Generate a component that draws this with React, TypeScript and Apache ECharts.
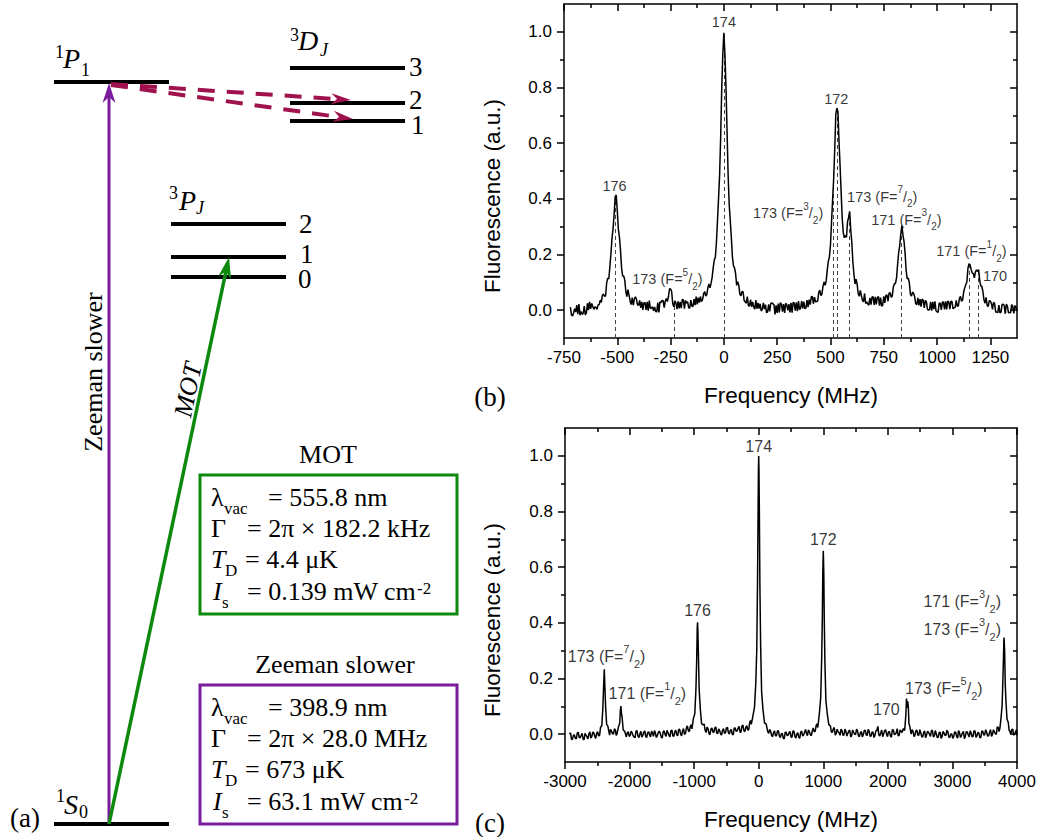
import React, { useEffect, useRef } from "react";
import * as echarts from "echarts";

const SERIF = '"Liberation Serif", "Times New Roman", Times, serif';
const SANS = '"Liberation Sans", Arial, Helvetica, sans-serif';

// ---------- panel (b): fluorescence spectrum, fine scan (MHz, a.u.) ----------
const traceB: [number, number][] = [
  [-720,0.011],[-715,-0.017],[-710,-0.021],[-705,-0.010],[-700,0.005],[-695,-0.007],[-690,0.018],[-685,-0.014],[-680,0.022],[-675,-0.018],
  [-670,-0.005],[-665,-0.015],[-660,-0.012],[-655,0.015],[-650,-0.017],[-645,-0.010],[-640,0.025],[-635,0.000],[-630,0.030],[-625,0.005],
  [-620,0.024],[-615,0.013],[-610,0.003],[-605,0.012],[-600,0.010],[-595,0.003],[-590,0.019],[-585,0.020],[-580,0.036],[-575,0.028],
  [-570,0.053],[-565,0.058],[-560,0.050],[-555,0.051],[-550,0.097],[-545,0.115],[-540,0.112],[-535,0.154],[-530,0.201],[-525,0.257],
  [-520,0.292],[-515,0.342],[-510,0.407],[-505,0.414],[-500,0.357],[-495,0.290],[-490,0.263],[-485,0.216],[-480,0.152],[-475,0.123],
  [-470,0.123],[-465,0.109],[-460,0.068],[-455,0.049],[-450,0.074],[-445,0.054],[-440,0.034],[-435,0.020],[-430,0.045],[-425,0.018],
  [-420,0.040],[-415,0.048],[-410,0.039],[-405,0.019],[-400,0.017],[-395,0.035],[-390,0.008],[-385,0.030],[-380,0.001],[-375,0.027],
  [-370,0.027],[-365,0.001],[-360,0.030],[-355,-0.002],[-350,0.034],[-345,0.007],[-340,0.007],[-335,0.012],[-330,-0.002],[-325,0.012],
  [-320,-0.005],[-315,-0.006],[-310,0.027],[-305,-0.008],[-300,0.030],[-295,0.027],[-290,0.035],[-285,0.034],[-280,0.009],[-275,0.032],
  [-270,0.042],[-265,0.031],[-260,0.049],[-255,0.077],[-250,0.076],[-245,0.067],[-240,0.024],[-235,0.012],[-230,0.033],[-225,0.026],
  [-220,0.004],[-215,0.032],[-210,0.006],[-205,0.030],[-200,0.007],[-195,0.039],[-190,0.037],[-185,0.005],[-180,0.035],[-175,0.026],
  [-170,0.030],[-165,0.008],[-160,0.008],[-155,0.036],[-150,0.015],[-145,0.013],[-140,0.040],[-135,0.018],[-130,0.049],[-125,0.021],
  [-120,0.045],[-115,0.027],[-110,0.049],[-105,0.031],[-100,0.038],[-95,0.059],[-90,0.067],[-85,0.051],[-80,0.056],[-75,0.081],
  [-70,0.094],[-65,0.080],[-60,0.097],[-55,0.118],[-50,0.153],[-45,0.180],[-40,0.191],[-35,0.243],[-30,0.322],[-25,0.400],
  [-20,0.487],[-15,0.624],[-10,0.799],[-5,0.921],[0,0.997],[5,0.917],[10,0.797],[15,0.638],[20,0.483],[25,0.379],
  [30,0.321],[35,0.261],[40,0.191],[45,0.159],[50,0.152],[55,0.131],[60,0.089],[65,0.102],[70,0.089],[75,0.057],
  [80,0.052],[85,0.067],[90,0.066],[95,0.035],[100,0.030],[105,0.025],[110,0.049],[115,0.016],[120,0.015],[125,0.038],
  [130,0.012],[135,0.030],[140,0.010],[145,0.004],[150,0.036],[155,0.005],[160,0.026],[165,0.006],[170,0.023],[175,-0.003],
  [180,0.003],[185,0.026],[190,0.004],[195,0.020],[200,-0.009],[205,-0.006],[210,0.021],[215,-0.004],[220,0.024],[225,0.026],
  [230,0.023],[235,0.019],[240,-0.015],[245,0.017],[250,-0.010],[255,0.024],[260,-0.008],[265,0.027],[270,0.021],[275,-0.005],
  [280,0.022],[285,-0.010],[290,0.025],[295,0.019],[300,-0.001],[305,0.022],[310,-0.008],[315,0.026],[320,-0.009],[325,0.028],
  [330,0.025],[335,-0.002],[340,0.028],[345,-0.004],[350,0.033],[355,0.002],[360,0.007],[365,0.033],[370,0.006],[375,0.031],
  [380,0.005],[385,0.008],[390,0.036],[395,0.011],[400,0.038],[405,0.020],[410,0.048],[415,0.049],[420,0.023],[425,0.047],
  [430,0.030],[435,0.031],[440,0.033],[445,0.064],[450,0.072],[455,0.052],[460,0.058],[465,0.086],[470,0.101],[475,0.089],
  [480,0.106],[485,0.145],[490,0.176],[495,0.191],[500,0.234],[505,0.316],[510,0.396],[515,0.472],[520,0.578],[525,0.703],
  [530,0.726],[535,0.714],[540,0.608],[545,0.520],[550,0.424],[555,0.331],[560,0.279],[565,0.260],[570,0.268],[575,0.262],
  [580,0.317],[585,0.333],[590,0.355],[595,0.289],[600,0.245],[605,0.174],[610,0.130],[615,0.094],[620,0.111],[625,0.094],
  [630,0.060],[635,0.050],[640,0.071],[645,0.052],[650,0.035],[655,0.030],[660,0.060],[665,0.024],[670,0.030],[675,0.022],
  [680,0.018],[685,0.044],[690,0.020],[695,0.047],[700,0.048],[705,0.019],[710,0.048],[715,0.021],[720,0.045],[725,0.049],
  [730,0.016],[735,0.045],[740,0.014],[745,0.018],[750,0.050],[755,0.026],[760,0.053],[765,0.055],[770,0.032],[775,0.061],
  [780,0.063],[785,0.046],[790,0.051],[795,0.084],[800,0.095],[805,0.096],[810,0.116],[815,0.165],[820,0.207],[825,0.233],
  [830,0.274],[835,0.304],[840,0.270],[845,0.247],[850,0.205],[855,0.143],[860,0.112],[865,0.115],[870,0.098],[875,0.057],
  [880,0.051],[885,0.065],[890,0.060],[895,0.048],[900,0.023],[905,0.020],[910,0.044],[915,0.017],[920,0.040],[925,0.013],
  [930,0.040],[935,0.036],[940,0.008],[945,0.035],[950,0.030],[955,0.003],[960,0.000],[965,0.002],[970,0.030],[975,-0.002],
  [980,0.030],[985,0.004],[990,0.032],[995,-0.002],[1000,-0.006],[1005,-0.008],[1010,0.026],[1015,0.024],[1020,0.001],[1025,0.029],
  [1030,0.029],[1035,0.003],[1040,0.032],[1045,0.003],[1050,0.033],[1055,0.030],[1060,0.004],[1065,0.032],[1070,0.031],[1075,0.005],
  [1080,0.009],[1085,0.010],[1090,0.035],[1095,0.014],[1100,0.016],[1105,0.043],[1110,0.049],[1115,0.032],[1120,0.037],[1125,0.066],
  [1130,0.081],[1135,0.092],[1140,0.102],[1145,0.151],[1150,0.167],[1155,0.163],[1160,0.146],[1165,0.133],[1170,0.132],[1175,0.116],
  [1180,0.138],[1185,0.145],[1190,0.139],[1195,0.146],[1200,0.108],[1205,0.087],[1210,0.086],[1215,0.067],[1220,0.037],[1225,0.025],
  [1230,0.046],[1235,0.017],[1240,0.013],[1245,0.034],[1250,0.033],[1255,0.024],[1260,0.003],[1265,0.028],[1270,0.024],[1275,-0.007],
  [1280,-0.007],[1285,-0.009],[1290,0.018],[1295,-0.010],[1300,-0.007],[1305,0.020],[1310,0.021],[1315,0.017],[1320,-0.013],[1325,0.022],
  [1330,0.015],[1335,-0.010],[1340,-0.008],[1345,-0.010],[1350,0.020],[1355,0.014],[1360,-0.012],[1365,0.016],[1370,0.012],[1375,-0.003],
];

// dashed markers: [frequency, top of the dashed line]
const markersB: [number, number][] = [
  [-508, 0.40], [-234, 0.03], [0, 0.99], [514, 0.5], [532, 0.72], [588, 0.35], [834, 0.30], [1153, 0.16], [1193, 0.14],
];

const labelsB = [
  { text: "176", x: -513, y: 0.445 },
  { text: "174", x: 0, y: 1.035 },
  { text: "172", x: 527, y: 0.757 },
  { text: "173 (F={sup|5}/{sub|2})", x: -265, y: 0.111 },
  { text: "173 (F={sup|3}/{sub|2})", x: 301, y: 0.349 },
  { text: "173 (F={sup|7}/{sub|2})", x: 743, y: 0.408 },
  { text: "171 (F={sup|3}/{sub|2})", x: 856, y: 0.325 },
  { text: "171 (F={sup|1}/{sub|2})", x: 1161, y: 0.211 },
  { text: "170", x: 1272, y: 0.122 },
];

// ---------- panel (c): fluorescence spectrum, wide scan (MHz, a.u.) ----------
const traceC: [number, number][] = [
  [-2930,0.000],[-2915,0.005],[-2900,-0.018],[-2885,-0.019],[-2870,-0.004],[-2855,-0.003],[-2840,-0.015],[-2825,-0.017],[-2810,0.004],[-2795,0.007],
  [-2780,-0.012],[-2765,-0.013],[-2750,-0.005],[-2735,0.003],[-2720,-0.018],[-2705,-0.020],[-2690,0.003],[-2675,-0.003],[-2660,-0.009],[-2645,-0.017],
  [-2630,0.001],[-2615,0.008],[-2600,-0.014],[-2585,-0.009],[-2570,0.007],[-2555,0.005],[-2540,-0.007],[-2525,-0.015],[-2510,0.002],[-2495,0.009],
  [-2480,-0.006],[-2465,-0.005],[-2450,0.024],[-2430,0.031],[-2415,0.089],[-2402,0.171],[-2392,0.233],[-2382,0.169],[-2370,0.092],[-2355,0.035],
  [-2335,0.028],[-2310,-0.003],[-2295,0.017],[-2280,0.011],[-2265,0.002],[-2250,0.000],[-2235,0.019],[-2220,0.016],[-2207,-0.004],[-2195,0.001],
  [-2170,0.028],[-2152,0.040],[-2142,0.087],[-2134,0.101],[-2126,0.076],[-2116,0.061],[-2098,0.015],[-2075,0.010],[-2050,-0.010],[-2035,0.005],
  [-2020,0.009],[-2005,-0.008],[-1990,-0.004],[-1975,0.011],[-1960,0.005],[-1945,-0.006],[-1930,-0.010],[-1915,-0.013],[-1900,0.011],[-1885,0.013],
  [-1870,-0.007],[-1855,-0.012],[-1840,0.001],[-1825,0.010],[-1810,-0.011],[-1795,-0.004],[-1780,0.007],[-1765,0.012],[-1750,-0.008],[-1735,-0.012],
  [-1720,0.005],[-1705,0.009],[-1690,-0.002],[-1675,-0.010],[-1660,0.011],[-1645,0.004],[-1630,-0.008],[-1615,0.013],[-1600,0.004],[-1585,-0.012],
  [-1570,-0.005],[-1555,0.006],[-1540,0.011],[-1525,0.003],[-1510,-0.010],[-1495,-0.014],[-1480,0.008],[-1465,0.012],[-1450,-0.001],[-1435,-0.008],
  [-1420,0.014],[-1405,0.006],[-1390,-0.004],[-1375,-0.010],[-1360,0.012],[-1345,0.015],[-1330,-0.006],[-1315,-0.008],[-1300,0.009],[-1285,0.014],
  [-1270,-0.002],[-1255,-0.006],[-1240,0.016],[-1225,0.018],[-1210,0.001],[-1195,-0.006],[-1180,0.011],[-1165,0.020],[-1150,-0.001],[-1135,0.003],
  [-1120,0.022],[-1105,0.030],[-1090,0.013],[-1075,0.009],[-1060,0.027],[-1048,0.034],[-1035,0.019],[-1010,0.058],[-990,0.073],[-972,0.163],
  [-960,0.273],[-952,0.384],[-947,0.402],[-942,0.369],[-934,0.289],[-922,0.160],[-905,0.092],[-885,0.038],[-860,0.033],[-845,0.037],
  [-830,0.014],[-815,0.006],[-800,0.025],[-785,0.020],[-770,0.002],[-755,-0.002],[-740,0.018],[-725,0.022],[-710,0.008],[-695,0.007],
  [-680,0.022],[-665,0.026],[-650,0.004],[-635,0.002],[-620,0.019],[-605,0.013],[-590,0.000],[-575,-0.003],[-560,0.014],[-545,0.020],
  [-530,0.003],[-515,0.005],[-500,0.022],[-485,0.025],[-470,0.006],[-455,0.000],[-440,0.013],[-425,0.017],[-410,0.000],[-395,-0.003],
  [-380,0.022],[-365,0.022],[-350,0.010],[-335,0.012],[-320,0.021],[-305,0.028],[-290,0.007],[-275,0.007],[-260,0.030],[-245,0.032],
  [-230,0.013],[-215,0.009],[-200,0.024],[-185,0.031],[-170,0.015],[-155,0.016],[-140,0.041],[-128,0.049],[-115,0.035],[-90,0.065],
  [-65,0.097],[-45,0.185],[-30,0.306],[-18,0.556],[-9,0.821],[-4,0.958],[0,0.999],[4,0.947],[9,0.829],[18,0.539],
  [30,0.315],[45,0.152],[65,0.091],[90,0.040],[115,0.037],[140,0.009],[155,0.003],[170,0.017],[185,0.010],[200,-0.005],
  [215,-0.009],[230,0.006],[245,0.012],[260,-0.006],[275,-0.006],[290,0.011],[305,0.013],[320,-0.006],[335,-0.012],[350,0.001],
  [365,0.003],[380,-0.014],[395,-0.017],[410,0.007],[425,0.007],[440,-0.005],[455,-0.004],[470,0.005],[485,0.010],[500,-0.010],
  [515,-0.012],[530,0.011],[545,0.011],[560,-0.008],[575,-0.014],[590,0.001],[605,0.005],[620,-0.011],[635,-0.015],[650,0.007],
  [665,0.011],[680,-0.007],[695,-0.003],[710,0.007],[725,0.017],[740,0.002],[755,-0.005],[770,0.015],[785,0.009],[800,-0.002],
  [815,-0.005],[830,0.012],[845,0.022],[860,0.008],[875,0.011],[890,0.032],[902,0.037],[915,0.024],[940,0.076],[960,0.131],
  [975,0.270],[985,0.414],[992,0.573],[997,0.631],[1000,0.659],[1003,0.634],[1008,0.576],[1015,0.415],[1025,0.260],[1040,0.122],
  [1060,0.077],[1085,0.034],[1110,0.030],[1125,0.008],[1140,0.007],[1155,0.019],[1170,0.024],[1185,-0.004],[1200,0.003],[1215,0.018],
  [1230,0.009],[1245,0.005],[1260,-0.004],[1275,0.018],[1290,0.013],[1305,-0.004],[1320,-0.003],[1335,0.018],[1350,0.010],[1365,-0.007],
  [1380,0.003],[1395,0.011],[1410,0.015],[1425,-0.010],[1440,-0.005],[1455,0.015],[1470,0.007],[1485,0.000],[1500,-0.002],[1515,0.018],
  [1530,0.012],[1545,-0.006],[1560,-0.009],[1575,0.006],[1590,0.009],[1605,-0.010],[1620,-0.001],[1635,0.013],[1650,0.014],[1665,-0.003],
  [1680,-0.004],[1695,0.017],[1710,0.011],[1725,-0.008],[1740,-0.007],[1755,0.008],[1770,0.007],[1785,-0.012],[1800,-0.004],[1815,0.012],
  [1830,0.014],[1845,0.028],[1860,-0.002],[1875,-0.007],[1890,0.005],[1905,0.015],[1920,-0.009],[1935,0.001],[1950,0.012],[1965,0.016],
  [1980,0.000],[1995,-0.009],[2010,0.009],[2025,0.009],[2040,-0.006],[2055,-0.011],[2070,0.016],[2085,0.015],[2100,-0.002],[2115,0.000],
  [2130,0.005],[2145,0.020],[2160,-0.006],[2175,-0.004],[2190,0.015],[2205,0.011],[2220,0.006],[2230,0.005],[2240,0.020],[2260,0.013],
  [2272,0.048],[2280,0.075],[2288,0.128],[2294,0.108],[2299,0.095],[2304,0.118],[2310,0.115],[2318,0.092],[2326,0.038],[2338,0.030],
  [2360,0.000],[2375,0.016],[2390,0.010],[2405,-0.009],[2420,-0.003],[2435,0.013],[2450,0.014],[2465,-0.004],[2480,-0.003],[2495,0.016],
  [2510,0.004],[2525,-0.009],[2540,-0.010],[2555,0.007],[2570,0.011],[2585,-0.013],[2600,-0.002],[2615,0.010],[2630,0.007],[2645,-0.001],
  [2660,-0.008],[2675,0.013],[2690,0.013],[2705,-0.010],[2720,-0.006],[2735,0.013],[2750,0.001],[2765,-0.012],[2780,-0.011],[2795,0.006],
  [2810,0.007],[2825,-0.015],[2840,-0.009],[2855,0.010],[2870,0.004],[2885,-0.005],[2900,-0.003],[2915,0.014],[2930,0.008],[2945,-0.011],
  [2960,-0.011],[2975,0.001],[2990,0.001],[3005,-0.015],[3020,-0.008],[3035,0.008],[3050,0.007],[3065,-0.008],[3080,-0.014],[3095,0.013],
  [3110,0.005],[3125,-0.012],[3140,-0.005],[3155,0.004],[3170,0.010],[3185,-0.016],[3200,-0.008],[3215,0.009],[3230,0.008],[3245,-0.002],
  [3260,-0.010],[3275,0.012],[3290,0.004],[3305,-0.010],[3320,-0.007],[3335,0.013],[3350,0.011],[3365,-0.012],[3380,-0.005],[3395,0.007],
  [3410,0.003],[3425,-0.013],[3440,-0.011],[3455,0.012],[3470,0.010],[3485,-0.003],[3500,-0.002],[3515,0.016],[3530,0.007],[3545,-0.007],
  [3560,-0.006],[3575,0.007],[3590,0.016],[3605,-0.008],[3620,-0.001],[3635,0.016],[3650,0.008],[3665,0.002],[3680,-0.001],[3695,0.026],
  [3710,0.024],[3722,0.009],[3735,0.021],[3755,0.064],[3770,0.106],[3782,0.201],[3791,0.277],[3796,0.333],[3800,0.347],[3804,0.324],
  [3809,0.295],[3818,0.179],[3830,0.114],[3845,0.054],[3865,0.042],[3877,0.015],[3890,0.010],[3905,0.000],[3920,0.018],[3935,0.016],
  [3950,-0.004],[3965,0.003],[3980,0.008],[3990,0.016],[4000,-0.004],
];

const labelsC = [
  { text: "174", x: 0, y: 1.033 },
  { text: "172", x: 1000, y: 0.70 },
  { text: "176", x: -947, y: 0.446 },
  { text: "173 (F={sup|7}/{sub|2})", x: -2356, y: 0.279 },
  { text: "171 (F={sup|1}/{sub|2})", x: -1724, y: 0.147 },
  { text: "170", x: 1977, y: 0.09 },
  { text: "173 (F={sup|5}/{sub|2})", x: 2867, y: 0.165 },
  { text: "171 (F={sup|3}/{sub|2})", x: 3151, y: 0.477 },
  { text: "173 (F={sup|3}/{sub|2})", x: 3151, y: 0.377 },
];

// ---------- tick values ----------
const yMajor = [0, 0.2, 0.4, 0.6, 0.8, 1.0];
const yMinor = [0.1, 0.3, 0.5, 0.7, 0.9];
const bMajor = [-750, -500, -250, 0, 250, 500, 750, 1000, 1250];
const bMinor = [-625, -375, -125, 125, 375, 625, 875, 1125];
const cMajor = [-3000, -2000, -1000, 0, 1000, 2000, 3000, 4000];
const cMinor = [-2500, -1500, -500, 500, 1500, 2500, 3500];

const tickStyle = { color: "#000", width: 1.5 };

function xAxes(grid: number, min: number, max: number, major: number[], minor: number[]) {
  const base = { type: "value", gridIndex: grid, min, max, splitLine: { show: false } };
  const line = { show: true, onZero: false, lineStyle: { color: "#000", width: 1.5 } };
  const noLine = { show: false, onZero: false };
  return [
    {
      ...base, position: "bottom", axisLine: line,
      axisTick: { show: true, inside: false, length: 7, customValues: major, lineStyle: tickStyle },
      axisLabel: { show: true, customValues: major, margin: 11, color: "#000", fontSize: 17, fontFamily: SANS, formatter: (v: number) => String(v) },
    },
    { ...base, position: "bottom", axisLine: noLine, axisTick: { show: true, inside: false, length: 4, customValues: minor, lineStyle: tickStyle }, axisLabel: { show: false } },
    { ...base, position: "top", axisLine: line, axisTick: { show: true, inside: true, length: 7, customValues: major, lineStyle: tickStyle }, axisLabel: { show: false } },
    { ...base, position: "top", axisLine: noLine, axisTick: { show: true, inside: true, length: 4, customValues: minor, lineStyle: tickStyle }, axisLabel: { show: false } },
  ];
}

function yAxes(grid: number) {
  const base = { type: "value", gridIndex: grid, min: -0.1, max: 1.1, splitLine: { show: false } };
  const line = { show: true, onZero: false, lineStyle: { color: "#000", width: 1.5 } };
  const noLine = { show: false, onZero: false };
  return [
    {
      ...base, position: "left", axisLine: line,
      axisTick: { show: true, inside: false, length: 7, customValues: yMajor, lineStyle: tickStyle },
      axisLabel: { show: true, customValues: yMajor, margin: 12, color: "#000", fontSize: 17, fontFamily: SANS, formatter: (v: number) => v.toFixed(1) },
    },
    { ...base, position: "left", axisLine: noLine, axisTick: { show: true, inside: false, length: 4, customValues: yMinor, lineStyle: tickStyle }, axisLabel: { show: false } },
    { ...base, position: "right", axisLine: line, axisTick: { show: true, inside: true, length: 7, customValues: yMajor, lineStyle: tickStyle }, axisLabel: { show: false } },
    { ...base, position: "right", axisLine: noLine, axisTick: { show: true, inside: true, length: 4, customValues: yMinor, lineStyle: tickStyle }, axisLabel: { show: false } },
  ];
}

function richFor(size: number) {
  const s = Math.round(size * 0.68);
  return {
    sup: { fontSize: s, lineHeight: s + 2, verticalAlign: "top", fontFamily: SANS, color: "#000" },
    sub: { fontSize: s, lineHeight: s + 2, verticalAlign: "bottom", fontFamily: SANS, color: "#000" },
  };
}

function labelSeries(axis: number, labels: { text: string; x: number; y: number }[], size: number) {
  return {
    type: "scatter", xAxisIndex: axis, yAxisIndex: axis, symbolSize: 1, silent: true, z: 6,
    itemStyle: { color: "rgba(0,0,0,0)" },
    data: labels.map((l) => ({ value: [l.x, l.y], label: { formatter: l.text } })),
    label: { show: true, position: "inside", color: "#000", fontFamily: SANS, fontSize: size, lineHeight: Math.round(size * 1.65), rich: richFor(size) },
  };
}

// ---------- left panel drawing helpers ----------
const PURPLE = "#7a1c9c";
const GREEN = "#0d8a0d";
const CRIMSON = "#a0124e";

function txt(x: number, y: number, text: string, size: number, o: any = {}) {
  const style: any = {
    text, fontSize: size, fontFamily: o.family || SERIF, fontStyle: o.italic ? "italic" : "normal",
    fill: "#000", align: o.align || "left", verticalAlign: "middle", textAlign: o.align || "left", textVerticalAlign: "middle",
  };
  if (o.lineHeight) style.lineHeight = o.lineHeight;
  return { type: "text", x, y, rotation: o.rotation || 0, silent: true, style };
}

function arrow(x1: number, y1: number, x2: number, y2: number, color: string, width: number, len: number, half: number, notch: number, dash?: number[]) {
  const dx = x2 - x1, dy = y2 - y1, L = Math.hypot(dx, dy);
  const ux = dx / L, uy = dy / L, px = -uy, py = ux;
  const bx = x2 - ux * len, by = y2 - uy * len;
  const nx = x2 - ux * (len - notch), ny = y2 - uy * (len - notch);
  const style: any = { stroke: color, lineWidth: width };
  if (dash) style.lineDash = dash;
  return [
    { type: "line", silent: true, shape: { x1, y1, x2: nx, y2: ny }, style },
    { type: "polygon", silent: true, shape: { points: [[x2, y2], [bx + px * half, by + py * half], [nx, ny], [bx - px * half, by - py * half]] }, style: { fill: color } },
  ];
}

function level(x1: number, x2: number, y: number) {
  return { type: "line", silent: true, shape: { x1, y1: y, x2, y2: y }, style: { stroke: "#000", lineWidth: 4 } };
}

function infoBox(off: number, color: string, title: string, titleX: number, vals: string[], supX: number) {
  const els: any[] = [];
  els.push({ type: "rect", silent: true, shape: { x: 200, y: 475 + off, width: 257, height: 139 }, style: { fill: "none", stroke: color, lineWidth: 3 } });
  els.push(txt(titleX, 454 + off, title, 26, { align: "center" }));
  const mids = [497.4, 528.4, 559.4, 591.4].map((m) => m + off);
  const lh = { lineHeight: 22 };
  els.push(txt(211, mids[0], "λ", 26, lh));
  els.push(txt(224, 508.4 + off, "vac", 17, { lineHeight: 12 }));
  els.push(txt(268, mids[0], vals[0], 26, lh));
  els.push(txt(211, mids[1], "Γ", 26, lh));
  els.push(txt(247, mids[1], vals[1], 26, lh));
  els.push(txt(211, mids[2], "T", 26, { italic: true, lineHeight: 22 }));
  els.push(txt(225, 570.4 + off, "D", 17, { lineHeight: 12 }));
  els.push(txt(245, mids[2], vals[2], 26, lh));
  els.push(txt(213, mids[3], "I", 26, { italic: true, lineHeight: 22 }));
  els.push(txt(222, 602 + off, "s", 17, { lineHeight: 12 }));
  els.push(txt(247, mids[3], vals[3], 26, lh));
  els.push(txt(supX, 588 + off, "-2", 17, { lineHeight: 12 }));
  return els;
}

function buildGraphic() {
  const els: any[] = [];
  // energy levels
  els.push(level(54, 169, 82));
  els.push(level(290, 405, 68), level(290, 405, 103), level(290, 405, 121));
  els.push(level(171, 286, 224), level(171, 286, 257), level(171, 286, 277));
  els.push(level(54, 169, 824));
  // arrows
  els.push(...arrow(111, 84, 351, 100, CRIMSON, 4, 20, 5.5, 6, [17, 12]));
  els.push(...arrow(111, 85, 353, 119, CRIMSON, 4, 20, 5.5, 6, [17, 12]));
  els.push(...arrow(109, 824, 109, 83, PURPLE, 3, 20, 6.5, 6));
  els.push(...arrow(109, 824, 229, 257, GREEN, 3.5, 21, 6.5, 6));
  // level labels
  const n = { lineHeight: 18 };
  els.push(txt(55, 52, "1", 18, { lineHeight: 13 }), txt(63, 58.5, "P", 28, { italic: true, lineHeight: 20 }), txt(81, 70, "1", 18, { lineHeight: 13 }));
  els.push(txt(290, 35, "3", 18, { lineHeight: 13 }), txt(298, 40.5, "D", 28, { italic: true, lineHeight: 20 }), txt(320, 50, "J", 18, { italic: true, lineHeight: 13 }));
  els.push(txt(409, 66.8, "3", 27, n), txt(409, 99.5, "2", 27, n), txt(411, 124.5, "1", 27, n));
  els.push(txt(169, 193, "3", 18, { lineHeight: 13 }), txt(179, 200.5, "P", 28, { italic: true, lineHeight: 20 }), txt(196, 208, "J", 18, { italic: true, lineHeight: 13 }));
  els.push(txt(299, 224, "2", 27, n), txt(300, 253.5, "1", 27, n), txt(298, 278.5, "0", 27, n));
  els.push(txt(56, 796, "1", 18, { lineHeight: 13 }), txt(64, 804.5, "S", 28, { italic: true, lineHeight: 20 }), txt(79, 812, "0", 18, { lineHeight: 13 }));
  els.push(txt(10, 818, "(a)", 27));
  // arrow captions
  els.push(txt(93, 372, "Zeeman slower", 26, { align: "center", rotation: Math.PI / 2 }));
  els.push(txt(188, 390, "MOT", 26, { align: "center", italic: true, rotation: Math.atan2(824 - 257, 229 - 109) }));
  // parameter boxes
  els.push(...infoBox(0, GREEN, "MOT", 328, ["= 555.8 nm", "= 2π × 182.2 kHz", "= 4.4 μK", "= 0.139 mW cm"], 417));
  els.push(...infoBox(210, PURPLE, "Zeeman slower", 335, ["= 398.9 nm", "= 2π × 28.0 MHz", "= 673 μK", "= 63.1 mW cm"], 404));
  // panel letters and axis titles
  els.push(txt(490, 397, "(b)", 27, { align: "center" }));
  els.push(txt(490, 823, "(c)", 27, { align: "center" }));
  els.push(txt(791, 395, "Frequency (MHz)", 22.5, { align: "center", family: SANS }));
  els.push(txt(791, 819, "Frequency (MHz)", 22.5, { align: "center", family: SANS }));
  els.push(txt(492, 196, "Fluorescence (a.u.)", 22.5, { align: "center", family: SANS, rotation: Math.PI / 2 }));
  els.push(txt(492, 620, "Fluorescence (a.u.)", 22.5, { align: "center", family: SANS, rotation: Math.PI / 2 }));
  return els;
}

function buildOption() {
  return {
    animation: false,
    grid: [
      { left: 564, top: 4, width: 453, height: 334 },
      { left: 565, top: 428, width: 452, height: 334 },
    ],
    xAxis: [...xAxes(0, -750, 1375, bMajor, bMinor), ...xAxes(1, -3000, 4000, cMajor, cMinor)],
    yAxis: [...yAxes(0), ...yAxes(1)],
    series: [
      {
        type: "line", xAxisIndex: 0, yAxisIndex: 0, data: traceB, symbol: "none", showSymbol: false, z: 3,
        lineStyle: { color: "#000", width: 1.5 },
        markLine: {
          silent: true, symbol: ["none", "none"], label: { show: false }, z: 2,
          lineStyle: { color: "#444", width: 1, type: [4, 3] },
          data: markersB.map(([x, top]) => [{ coord: [x, -0.1] }, { coord: [x, top] }]),
        },
      },
      labelSeries(0, labelsB, 14.5),
      {
        type: "line", xAxisIndex: 4, yAxisIndex: 4, data: traceC, symbol: "none", showSymbol: false, z: 3,
        lineStyle: { color: "#000", width: 1.5 },
      },
      labelSeries(4, labelsC, 16),
    ],
    graphic: { elements: buildGraphic() },
  };
}

export default function App() {
  const ref = useRef<HTMLDivElement>(null);
  useEffect(() => {
    document.body.style.margin = "0";
    const chart = echarts.init(ref.current as HTMLDivElement, null, { renderer: "svg" });
    chart.setOption(buildOption() as any);
    return () => chart.dispose();
  }, []);
  return <div ref={ref} style={{ width: 1045, height: 837 }} />;
}
